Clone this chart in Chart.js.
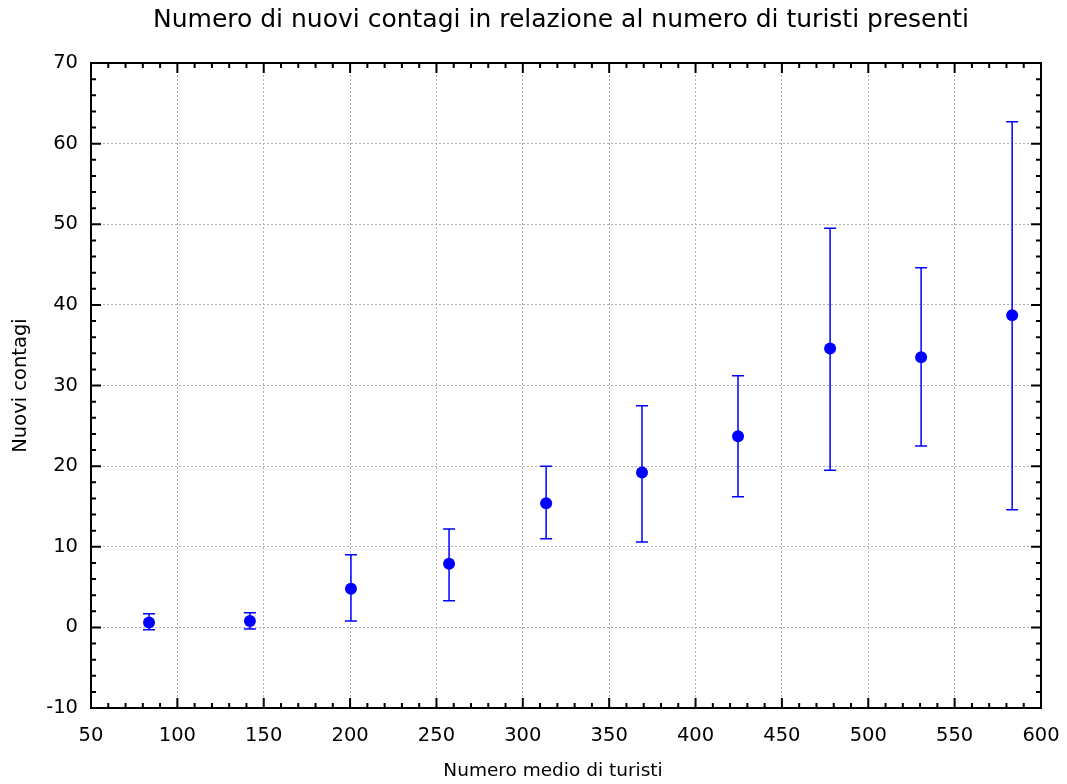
<!DOCTYPE html>
<html>
<head>
<meta charset="utf-8">
<script src="https://cdn.jsdelivr.net/npm/chart.js@4/dist/chart.umd.min.js"></script>
<style>
  html, body { margin: 0; padding: 0; background: #fff; }
  #wrap { width: 1067px; height: 784px; }
</style>
</head>
<body>
<div id="wrap"><canvas id="chartContagi"></canvas></div>
<script>
// ── Dati ──
const turisti   = [83.6, 142, 200.5, 257.3, 313.5, 369, 424.6, 477.9, 530.6, 583.3];
const contagi   = [0.6, 0.8, 4.8, 7.9, 15.4, 19.2, 23.7, 34.6, 33.5, 38.7];
const errSopra  = [1.7, 1.8, 9.0, 12.2, 20.0, 27.5, 31.2, 49.5, 44.6, 62.7];
const errSotto  = [-0.3, -0.2, 0.8, 3.3, 11.0, 10.6, 16.2, 19.5, 22.5, 14.6];
const xTicks    = [50, 100, 150, 200, 250, 300, 350, 400, 450, 500, 550, 600];
const yTicks    = [-10, 0, 10, 20, 30, 40, 50, 60, 70];
const titolo    = 'Numero di nuovi contagi in relazione al numero di turisti presenti';
const titoloX   = 'Numero medio di turisti';

const FONT = "'DejaVu Sans', sans-serif";

// ── Titoli (centrati come nel riferimento) ──
const titlePlugin = {
  id: 'titoli',
  afterDraw(chart) {
    const { ctx, chartArea: a } = chart;
    const cx = (a.left + a.right) / 2;
    ctx.save();
    ctx.fillStyle = '#000';
    ctx.textAlign = 'center';
    ctx.textBaseline = 'middle';
    ctx.font = `25px ${FONT}`;
    ctx.fillText(titolo, cx - 5, 20);
    ctx.font = `18.5px ${FONT}`;
    ctx.fillText(titoloX, cx - 13, 771);
    ctx.restore();
  }
};

// ── Error bars ──
const errorBars = {
  id: 'errorBars',
  beforeDatasetsDraw(chart) {
    const { ctx, scales: { x, y } } = chart;
    ctx.save();
    ctx.strokeStyle = '#0000ff';
    ctx.lineWidth = 1.5;
    turisti.forEach((t, i) => {
      const px = x.getPixelForValue(t);
      const top = y.getPixelForValue(errSopra[i]);
      const bot = y.getPixelForValue(errSotto[i]);
      ctx.beginPath();
      ctx.moveTo(px, top); ctx.lineTo(px, bot);
      ctx.moveTo(px - 6, top); ctx.lineTo(px + 6, top);
      ctx.moveTo(px - 6, bot); ctx.lineTo(px + 6, bot);
      ctx.stroke();
    });
    ctx.restore();
  }
};

// ── Frame + inward ticks on all sides ──
const frameTicks = {
  id: 'frameTicks',
  afterDraw(chart) {
    const { ctx, chartArea: a, scales: { x, y } } = chart;
    ctx.save();
    ctx.strokeStyle = '#000';
    ctx.lineWidth = 2;
    ctx.beginPath();
    for (let v = 50; v <= 600; v += 10) {
      const px = x.getPixelForValue(v);
      const len = v % 50 === 0 ? 10 : 5;
      ctx.moveTo(px, a.bottom); ctx.lineTo(px, a.bottom - len);
      ctx.moveTo(px, a.top);    ctx.lineTo(px, a.top + len);
    }
    for (let v = -10; v <= 70; v += 2) {
      const py = y.getPixelForValue(v);
      const len = v % 10 === 0 ? 10 : 5;
      ctx.moveTo(a.left, py);  ctx.lineTo(a.left + len, py);
      ctx.moveTo(a.right, py); ctx.lineTo(a.right - len, py);
    }
    ctx.stroke();
    ctx.strokeRect(a.left, a.top, a.right - a.left, a.bottom - a.top);
    ctx.restore();
  }
};

const gridOpts = { color: '#b0b0b0', lineWidth: 1, drawTicks: false };

new Chart(document.getElementById('chartContagi').getContext('2d'), {
  type: 'scatter',
  data: {
    datasets: [{
      label: 'Nuovi contagi',
      data: turisti.map((t, i) => ({ x: t, y: contagi[i] })),
      backgroundColor: '#0000ff',
      borderColor: '#0000ff',
      pointRadius: 6,
      pointHoverRadius: 6,
      borderWidth: 0
    }]
  },
  options: {
    responsive: true,
    maintainAspectRatio: false,
    animation: false,
    layout: { padding: { left: 0, right: 26, top: 63, bottom: 0 } },
    plugins: {
      legend: { display: false },
      tooltip: { enabled: false },
      title: { display: false }
    },
    scales: {
      x: {
        type: 'linear',
        min: 50, max: 600,
        afterBuildTicks: s => { s.ticks = xTicks.map(v => ({ value: v })); },
        afterFit: s => { s.height = 76; s.paddingLeft = 0; s.paddingRight = 0; },
        grid: gridOpts,
        border: { display: false, dash: [2, 2] },
        ticks: { color: '#000', padding: 16, maxRotation: 0, font: { family: FONT, size: 19.5 } },
        title: { display: false }
      },
      y: {
        type: 'linear',
        min: -10, max: 70,
        afterBuildTicks: s => { s.ticks = yTicks.map(v => ({ value: v })); },
        afterFit: s => { s.width = 91; s.paddingTop = 0; s.paddingBottom = 0; },
        grid: gridOpts,
        border: { display: false, dash: [2, 2] },
        ticks: { color: '#000', padding: 13, font: { family: FONT, size: 19.5 } },
        title: {
          display: true, text: 'Nuovi contagi', color: '#000',
          font: { family: FONT, size: 19.5, lineHeight: 1.2 },
          padding: { top: 9, bottom: 4 }
        }
      }
    }
  },
  plugins: [errorBars, frameTicks, titlePlugin]
});
</script>
</body>
</html>
